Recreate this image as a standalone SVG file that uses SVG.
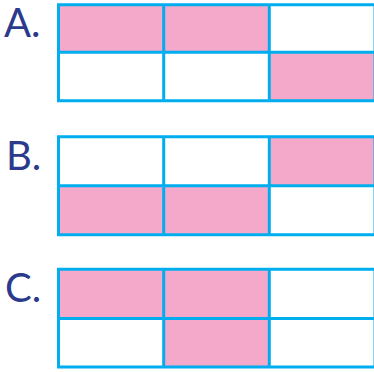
<svg xmlns="http://www.w3.org/2000/svg" width="374" height="372" viewBox="0 0 374 372">
<style>
.lbl{font-family:Lato,"DejaVu Sans",sans-serif;font-size:40px;fill:#2B3A8C}
.on{fill:#F4A8CA}
.grid{fill:none;stroke:#00AEEF;stroke-width:3}
</style>
<rect width="374" height="372" fill="#fff"/>
<g id="gridA">
<text class="lbl" x="4" y="37">A.</text>
<rect class="on" x="58.5" y="4.7" width="210.8" height="47.6"/>
<rect class="on" x="269.3" y="52.3" width="105.7" height="48.5"/>
<path class="grid" d="M58.5 4.7H375V100.8H58.5Z M58.5 52.3H375 M163.7 4.7V100.8 M269.3 4.7V100.8"/>
</g>
<g id="gridB">
<text class="lbl" x="6" y="170">B.</text>
<rect class="on" x="269.3" y="136.8" width="105.7" height="49"/>
<rect class="on" x="58.5" y="185.8" width="210.8" height="49"/>
<path class="grid" d="M58.5 136.8H375V234.8H58.5Z M58.5 185.8H375 M163.7 136.8V234.8 M269.3 136.8V234.8"/>
</g>
<g id="gridC">
<text class="lbl" x="5" y="301.5">C.</text>
<rect class="on" x="58.5" y="269.3" width="210.8" height="49.2"/>
<rect class="on" x="163.7" y="318.5" width="105.6" height="48.5"/>
<path class="grid" d="M58.5 269.3H375V367H58.5Z M58.5 318.5H375 M163.7 269.3V367 M269.3 269.3V367"/>
</g>
</svg>
